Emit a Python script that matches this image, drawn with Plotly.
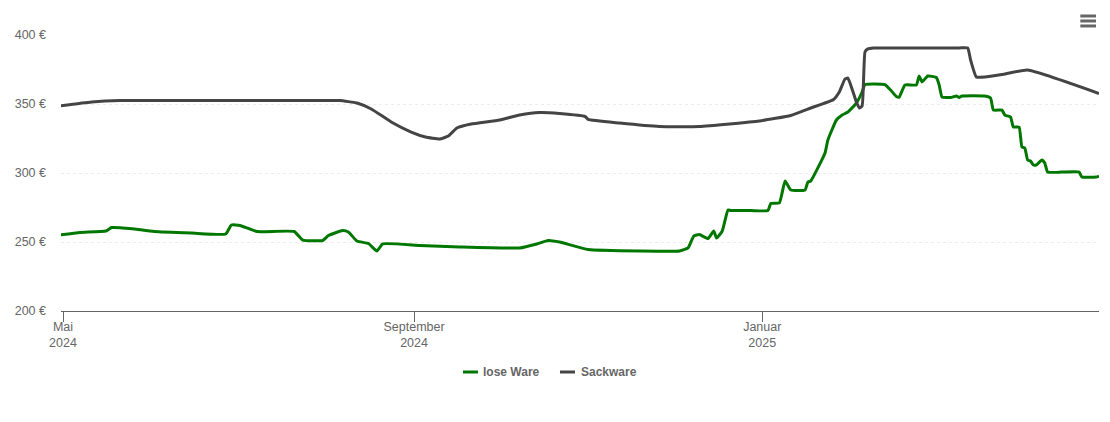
import plotly.graph_objects as go

# lose Ware price history
loose_dates = ["2024-04-30","2024-05-07","2024-05-16","2024-05-18","2024-05-21","2024-05-26","2024-06-02","2024-06-15","2024-06-27","2024-06-29",
    "2024-07-02","2024-07-08","2024-07-21","2024-07-24","2024-07-31","2024-08-02","2024-08-07","2024-08-09","2024-08-12","2024-08-16",
    "2024-08-19","2024-08-21","2024-09-03","2024-09-17","2024-10-08","2024-10-14","2024-10-18","2024-10-22","2024-11-01","2024-11-19",
    "2024-12-03","2024-12-06","2024-12-08","2024-12-10","2024-12-13","2024-12-15","2024-12-16","2024-12-18","2024-12-20","2024-12-21","2024-12-28",
    "2025-01-03","2025-01-04","2025-01-07","2025-01-09","2025-01-11","2025-01-16","2025-01-17","2025-01-18","2025-01-23","2025-01-24",
    "2025-01-27","2025-01-29","2025-01-31","2025-02-03","2025-02-05","2025-02-06","2025-02-13","2025-02-15","2025-02-17","2025-02-18",
    "2025-02-20","2025-02-24","2025-02-25","2025-02-26","2025-02-28","2025-03-03","2025-03-04","2025-03-05","2025-03-08","2025-03-10",
    "2025-03-11","2025-03-12","2025-03-20","2025-03-22","2025-03-23","2025-03-26","2025-03-27","2025-03-29","2025-03-30","2025-04-01",
    "2025-04-02","2025-04-03","2025-04-04","2025-04-05","2025-04-06","2025-04-07","2025-04-09","2025-04-10","2025-04-11","2025-04-16","2025-04-22",
    "2025-04-23","2025-04-28","2025-04-29"]
loose_prices = [255.1,256.9,258.0,260.5,260.4,259.4,257.6,256.5,255.8,262.3,
    262.0,257.6,257.6,251.4,251.1,254.7,258.3,257.2,250.7,248.9,
    243.5,248.6,247.5,246.4,245.7,248.6,251.1,250.0,244.6,243.5,
    243.5,245.7,254.3,255.4,252.5,258.0,252.9,258.0,273.2,272.8,272.8,
    272.8,277.9,278.3,294.2,287.7,287.7,293.5,294.2,314.5,323.9,
    338.4,342.0,344.2,350.7,358.7,364.1,364.1,360.1,355.4,355.0,
    363.8,363.8,370.3,366.0,370.3,369.2,363.8,355.0,354.7,355.8,
    354.7,355.8,355.8,354.3,345.6,345.6,342.0,340.6,333.3,333.3,
    318.8,318.1,309.4,308.7,305.8,305.8,309.4,307.2,300.7,300.7,300.7,
    297.1,297.1,297.8]

# Sackware price history
bag_dates = ["2024-04-30","2024-05-11","2024-05-21","2024-06-01","2024-07-15","2024-08-01","2024-08-06","2024-08-12","2024-08-17","2024-08-24","2024-08-31","2024-09-05","2024-09-10",
    "2024-09-13","2024-09-16","2024-09-21","2024-10-01","2024-10-08","2024-10-15","2024-10-22","2024-10-31","2024-11-01","2024-11-12",
    "2024-11-26","2024-12-10","2024-12-31","2025-01-11","2025-01-18","2025-01-26","2025-01-28","2025-01-30","2025-01-31","2025-02-01",
    "2025-02-03","2025-02-04","2025-02-05","2025-02-06","2025-02-07","2025-02-09","2025-02-12","2025-03-11","2025-03-14","2025-03-15","2025-03-17","2025-03-20",
    "2025-03-26","2025-04-04","2025-04-29"]
bag_prices = [348.6,351.4,352.5,352.5,352.5,352.5,352.5,350.7,346.4,337.0,329.7,326.1,324.6,
    326.8,332.6,335.5,338.4,342.0,343.8,343.1,340.9,338.8,336.2,
    333.7,333.7,337.7,341.7,347.1,353.3,358.7,368.1,368.8,363.8,
    351.4,347.1,348.6,387.7,389.9,390.6,390.6,390.6,390.6,381.9,369.6,369.6,
    371.4,374.6,357.6]

y_ticks = [200, 250, 300, 350, 400]
y_labels = ["200 €", "250 €", "300 €", "350 €", "400 €"]
x_ticks = ["2024-05-01", "2024-09-01", "2025-01-01"]
x_labels = ["Mai<br>2024", "September<br>2024", "Januar<br>2025"]

GREEN = "#007700"
GREY = "#444444"

fig = go.Figure()
fig.add_trace(go.Scatter(x=loose_dates, y=loose_prices, name="lose Ware", mode="lines",
                         line=dict(color=GREEN, width=3, shape="spline", smoothing=0.4)))
fig.add_trace(go.Scatter(x=bag_dates, y=bag_prices, name="Sackware", mode="lines",
                         line=dict(color=GREY, width=3, shape="spline", smoothing=0.4)))

fig.update_layout(
    width=1110, height=422,
    margin=dict(l=61, r=11, t=34, b=111),
    paper_bgcolor="white", plot_bgcolor="white",
    font=dict(family="Liberation Sans, Arial, sans-serif", size=12.5, color="#666666"),
    showlegend=False,
)
fig.update_xaxes(range=["2024-04-30 07:00", "2025-04-29"], tickmode="array", tickvals=x_ticks, ticktext=x_labels,
                 showgrid=False, showline=True, linecolor="#666666", linewidth=1,
                 ticks="outside", ticklen=10, tickcolor="#666666", tickwidth=1, ticklabelstandoff=-6)
# top of range a hair over 400, plotly drops a gridline sitting right on the edge
fig.update_yaxes(range=[200, 400.72], tickmode="array", tickvals=y_ticks, ticktext=y_labels,
                 showgrid=True, gridcolor="#ececec", griddash="dot", gridwidth=1,
                 zeroline=False, showline=False, ticks="", ticklabelstandoff=14)

# export menu icon, top right
for y in [1.065, 1.047, 1.029]:
    fig.add_shape(type="line", xref="paper", yref="paper", x0=0.982, x1=0.9971, y0=y, y1=y,
                  line=dict(color="#666666", width=3))

# legend with short keys, plotly's own keys are twice as long
for name, color, key_x0, key_x1, text_x in [("lose Ware", GREEN, 0.3873, 0.4017, 0.4066),
                                            ("Sackware", GREY, 0.4807, 0.4952, 0.5010)]:
    fig.add_shape(type="line", xref="paper", yref="paper", x0=key_x0, x1=key_x1, y0=-0.2202, y1=-0.2202,
                  line=dict(color=color, width=3))
    fig.add_annotation(x=text_x, y=-0.2202, xref="paper", yref="paper", text=name, showarrow=False,
                       xanchor="left", yanchor="middle", xshift=-2,
                       font=dict(size=12, color="#666666", weight="bold"))

fig.write_html("out.html", post_script="document.body.style.margin='0';", config={"displayModeBar": False})
